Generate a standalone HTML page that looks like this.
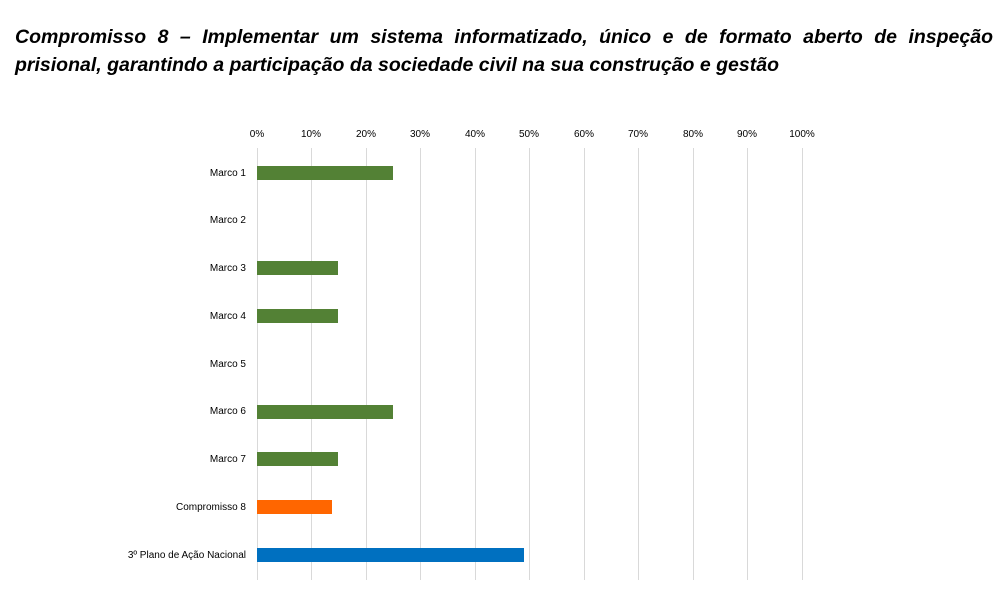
<!DOCTYPE html>
<html><head><meta charset="utf-8"><style>
body{margin:0;background:#fff;width:1000px;height:612px;overflow:hidden;position:relative;font-family:"Liberation Sans",sans-serif}
.t{position:absolute;left:15px;width:978px;font-weight:bold;font-style:italic;font-size:19.5px;color:#000;text-align:justify;text-align-last:justify;white-space:nowrap}
.g{position:absolute;top:148px;height:432px;width:1px;background:#d9d9d9}
.x{position:absolute;top:129px;font-size:10px;color:#000;width:40px;margin-left:-20px;text-align:center}
.l{position:absolute;right:754px;font-size:10px;color:#000;white-space:nowrap}
.b{position:absolute;left:257px;height:14px}
</style></head><body>
<div class="t" style="top:26px">Compromisso 8 – Implementar um sistema informatizado, único e de formato aberto de inspeção</div>
<div class="t" style="top:54px;text-align-last:left">prisional, garantindo a participação da sociedade civil na sua construção e gestão</div>
<div class="g" style="left:257px"></div><div class="g" style="left:311px"></div><div class="g" style="left:366px"></div><div class="g" style="left:420px"></div><div class="g" style="left:475px"></div><div class="g" style="left:529px"></div><div class="g" style="left:584px"></div><div class="g" style="left:638px"></div><div class="g" style="left:693px"></div><div class="g" style="left:747px"></div><div class="g" style="left:802px"></div>
<div class="x" style="left:257px">0%</div><div class="x" style="left:311px">10%</div><div class="x" style="left:366px">20%</div><div class="x" style="left:420px">30%</div><div class="x" style="left:475px">40%</div><div class="x" style="left:529px">50%</div><div class="x" style="left:584px">60%</div><div class="x" style="left:638px">70%</div><div class="x" style="left:693px">80%</div><div class="x" style="left:747px">90%</div><div class="x" style="left:802px">100%</div>
<div class="l" style="top:168px">Marco 1</div>
<div class="l" style="top:215px">Marco 2</div>
<div class="l" style="top:263px">Marco 3</div>
<div class="l" style="top:311px">Marco 4</div>
<div class="l" style="top:359px">Marco 5</div>
<div class="l" style="top:406px">Marco 6</div>
<div class="l" style="top:454px">Marco 7</div>
<div class="l" style="top:502px">Compromisso 8</div>
<div class="l" style="top:550px">3º Plano de Ação Nacional</div>
<div class="b" style="top:166px;width:136px;background:#538135"></div>
<div class="b" style="top:261px;width:81px;background:#538135"></div>
<div class="b" style="top:309px;width:81px;background:#538135"></div>
<div class="b" style="top:405px;width:136px;background:#538135"></div>
<div class="b" style="top:452px;width:81px;background:#538135"></div>
<div class="b" style="top:500px;width:75px;background:#ff6600"></div>
<div class="b" style="top:548px;width:267px;background:#0070c0"></div>
</body></html>
